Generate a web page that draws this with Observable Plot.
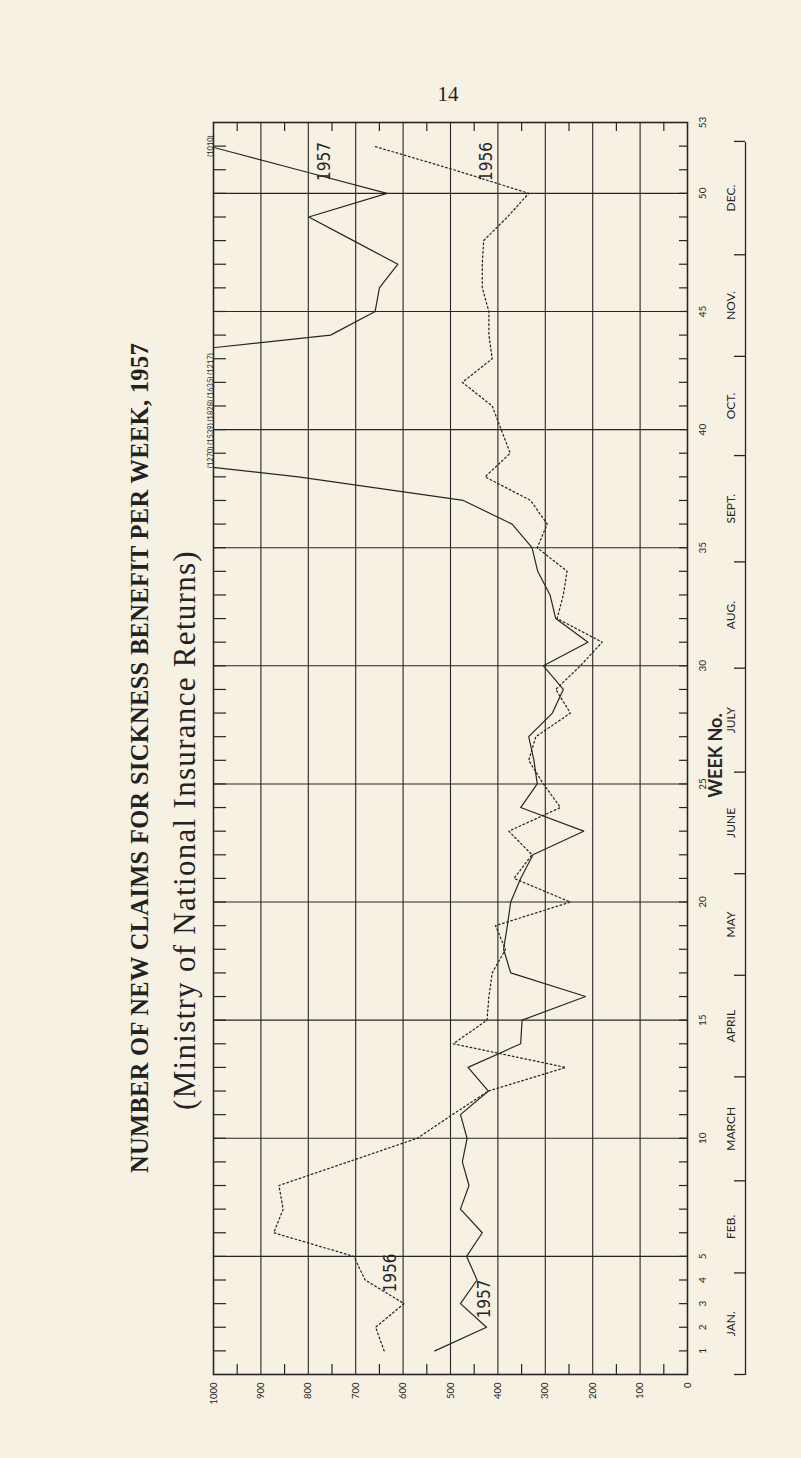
<!DOCTYPE html>
<html>
<head>
<meta charset="utf-8">
<script src="https://cdn.jsdelivr.net/npm/d3@7"></script>
<script src="https://cdn.jsdelivr.net/npm/@observablehq/plot@0.6"></script>
<style>
  html, body { margin:0; padding:0; background:#f6f1e2; width:801px; height:1458px; overflow:hidden; }
  #page { position:relative; width:801px; height:1458px; }
  #pageno { position:absolute; left:0; width:896px; top:82px; text-align:center;
            font-family:"Liberation Serif", serif; font-size:21px; color:#222; }
  #rot { position:absolute; left:0; top:0; width:1458px; height:801px;
         transform-origin:0 0; transform:translate(0px,1458px) rotate(-90deg); }
  #title { position:absolute; left:0; width:1400px; top:125px; text-align:center;
           font-family:"Liberation Serif", serif; font-weight:bold; font-size:24.5px;
           letter-spacing:0.3px; color:#222; line-height:30px; white-space:nowrap; }
  #subtitle { position:absolute; left:0; width:1256px; top:167px; text-align:center;
           font-family:"Liberation Serif", serif; font-size:31px; letter-spacing:1.3px; color:#222;
           line-height:36px; white-space:nowrap; }
  #chart { position:absolute; left:0; top:190px; }
</style>
</head>
<body>
<div id="page">
  <div id="pageno">14</div>
  <div id="rot">
    <div id="title">NUMBER OF NEW CLAIMS FOR SICKNESS BENEFIT PER WEEK, 1957</div>
    <div id="subtitle">(Ministry of National Insurance Returns)</div>
    <div id="chart"></div>
  </div>
</div>
<script>
// ---- data ----
const weeks = d3.range(1, 53);
const claims1957 = [533,424,479,444,466,433,479,461,475,465,479,420,463,352,349,215,373,388,380,373,
                    352,326,219,352,317,324,335,285,262,304,210,278,290,316,328,370,473,821,1270,1539,
                    1828,1635,1217,753,659,650,611,705,799,634,822,1010];
const claims1956 = [640,658,598,680,704,873,853,862,716,570,496,420,257,494,423,419,412,384,405,247,
                    366,328,377,268,304,335,320,247,278,226,180,275,262,254,317,296,331,427,374,393,
                    412,475,412,419,419,433,433,430,380,335,493,662];
const weekTickLabels = [1,2,3,4,5,10,15,20,25,30,35,40,45,50,53];
const valueTickLabels = [0,100,200,300,400,500,600,700,800,900,1000];
const gridWeeks = [5,10,15,20,25,30,35,40,45,50];
const gridValues = [100,200,300,400,500,600,700,800,900];
const halfValues = [50,150,250,350,450,550,650,750,850,950];
const months = ["JAN.","FEB.","MARCH","APRIL","MAY","JUNE","JULY","AUG.","SEPT.","OCT.","NOV.","DEC."];
const monthBounds = [0,4.3,8.2,12.6,16.9,21.2,25.5,29.9,34.4,38.9,43.1,47.4,52.2];
const seriesLabels = [
  {week:51.35, value:765, label:"1957"},
  {week:51.35, value:424, label:"1956"},
  {week:4.3,   value:627, label:"1956"},
  {week:3.2,   value:428, label:"1957"}
];
const overflowLabelWeek = 40.8;   // centre of the "(1270) ... (1217)" note
const weekTitle = "WEEK No.";
const weekTitleAt = 26.2;

const s1957 = weeks.map((w,i)=>({week:w, value:claims1957[i]}));
const s1956 = weeks.map((w,i)=>({week:w, value:claims1956[i]}));
const over = s1957.filter(d=>d.value>1000);
const overMid = over.filter(d=>d.week<50).map(d=>`(${d.value})`).join(" ");
const overEnd = over.filter(d=>d.week>=50);

const W = 1458, H = 611, mL = 83, mR = 123, mT = 23, mB = 114;
const pw = W - mL - mR, ph = H - mT - mB;
const ink = "#262626";
const sans = "Lato, 'Open Sans', sans-serif";

const chart = Plot.plot({
  width: W, height: H,
  marginLeft: mL, marginRight: mR, marginTop: mT, marginBottom: mB,
  style: {background: "transparent", color: ink, fontFamily: sans},
  x: {domain: [0, 53]},
  y: {domain: [0, 1000]},
  marks: [
    Plot.ruleX(gridWeeks, {stroke: ink, strokeWidth: 1.1}),
    Plot.ruleY(gridValues, {stroke: ink, strokeWidth: 1.1}),
    Plot.tickX(weeks, {x: d=>d, insetTop: ph - 8, stroke: ink, strokeWidth: 1.2}),
    Plot.tickX(weeks, {x: d=>d, insetBottom: ph - 13, stroke: ink, strokeWidth: 1.2}),
    Plot.tickY(halfValues, {y: d=>d, insetRight: pw - 11, stroke: ink, strokeWidth: 1.2}),
    Plot.tickY(halfValues, {y: d=>d, insetLeft: pw - 8, stroke: ink, strokeWidth: 1.2}),
    Plot.frame({stroke: ink, strokeWidth: 1.6}),
    Plot.line(s1956, {x: "week", y: "value", clip: true, stroke: ink, strokeWidth: 1.25,
                      strokeDasharray: "1.7,2.6"}),
    Plot.line(s1957, {x: "week", y: "value", clip: true, stroke: ink, strokeWidth: 1.2}),
    Plot.text(seriesLabels, {x: "week", y: "value", text: "label", fontSize: 17,
      fontFamily: "'Liberation Sans Narrow', 'DejaVu Sans Condensed', sans-serif", fill: ink}),
    Plot.text([overMid], {x: () => overflowLabelWeek, frameAnchor: "top", dy: -6, fontSize: 7.5, fill: ink}),
    Plot.text(overEnd, {x: "week", text: d=>`(${d.value})`, frameAnchor: "top", dy: -6, fontSize: 7.5, fill: ink}),
    Plot.axisX(weekTickLabels, {anchor: "bottom", tickSize: 0, tickPadding: 11, fontSize: 10,
      tickFormat: d=>String(d), label: null}),
    Plot.axisY(valueTickLabels, {anchor: "left", tickSize: 0, tickPadding: 8, fontSize: 9.5,
      tickFormat: d=>String(d), label: null}),
    Plot.text([weekTitle], {x: () => weekTitleAt, frameAnchor: "bottom", dy: 34, fontSize: 18,
      fontWeight: "bold", fill: ink}),
    Plot.ruleY([0], {x1: monthBounds[0], x2: monthBounds[monthBounds.length-1], dy: 58, stroke: ink, strokeWidth: 1.3}),
    Plot.tickX(monthBounds, {x: d=>d, insetTop: ph - 11, dy: 58, stroke: ink, strokeWidth: 1.3}),
    Plot.text(months, {x: (d,i) => (monthBounds[i] + monthBounds[i+1]) / 2, frameAnchor: "bottom",
      dy: 47, fontSize: 12, fill: ink})
  ]
});
document.getElementById("chart").appendChild(chart);
</script>
</body>
</html>
